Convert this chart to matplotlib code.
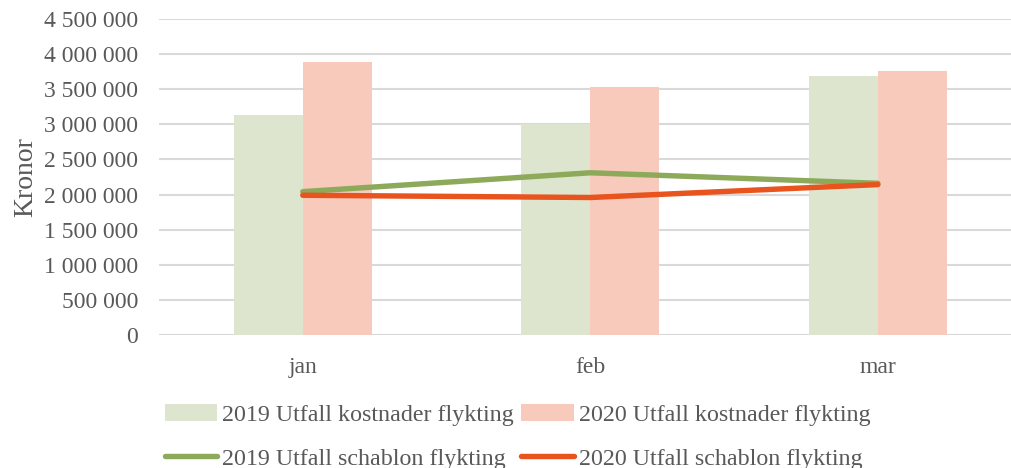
import numpy as np
import matplotlib.pyplot as plt

manader = ['jan', 'feb', 'mar']
kostnader_2019 = [3134000, 3006000, 3689000]
kostnader_2020 = [3889000, 3533000, 3761000]
schablon_2019 = [2041000, 2310000, 2160000]
schablon_2020 = [1990000, 1958000, 2142000]
yticks = np.arange(0, 4500001, 500000)

plt.rcParams['font.family'] = ['Liberation Serif', 'DejaVu Serif']
textfarg = '#595959'

fig = plt.figure(figsize=(10.11, 4.68), dpi=100)
ax = fig.add_axes([159 / 1011, 1 - 335 / 468, (1011 - 159) / 1011, (335 - 19) / 468])

x = np.arange(len(manader))
b = 0.24
ax.bar(x - b / 2, kostnader_2019, b, color='#dde5cf', label='2019 Utfall kostnader flykting', zorder=2)
ax.bar(x + b / 2, kostnader_2020, b, color='#f7cabc', label='2020 Utfall kostnader flykting', zorder=2)
ax.plot(x, schablon_2019, color='#8caa5a', lw=3.9, solid_capstyle='round',
        label='2019 Utfall schablon flykting', zorder=3)
ax.plot(x, schablon_2020, color='#e9531e', lw=3.9, solid_capstyle='round',
        label='2020 Utfall schablon flykting', zorder=4)

ax.set_xlim(-0.5, 2.463)
ax.set_ylim(0, 4500000)
ax.set_yticks(yticks)
ax.set_yticklabels([f'{v:,}'.replace(',', ' ') for v in yticks])
ax.set_xticks(x)
ax.set_xticklabels(manader)
ax.grid(axis='y', color='#d9d9d9', lw=1.5, zorder=0)
ax.tick_params(length=0, labelsize=17, colors=textfarg)
ax.tick_params(axis='y', pad=15)
ax.tick_params(axis='x', pad=16)
for s in ax.spines.values():
    s.set_visible(False)
ax.set_ylabel('Kronor', fontsize=20, color=textfarg, labelpad=4)

h, l = ax.get_legend_handles_labels()
hh = [h[2], h[0], h[3], h[1]]
ll = [l[2], l[0], l[3], l[1]]
fig.legend(hh, ll, ncol=2, loc='center left', bbox_to_anchor=(143 / 1011, 1 - 437 / 468),
           frameon=False, fontsize=17.3, labelcolor=textfarg, handlelength=2.2,
           handletextpad=0.2, columnspacing=0.3, labelspacing=0.9)

fig.savefig('out.png', dpi=100)
